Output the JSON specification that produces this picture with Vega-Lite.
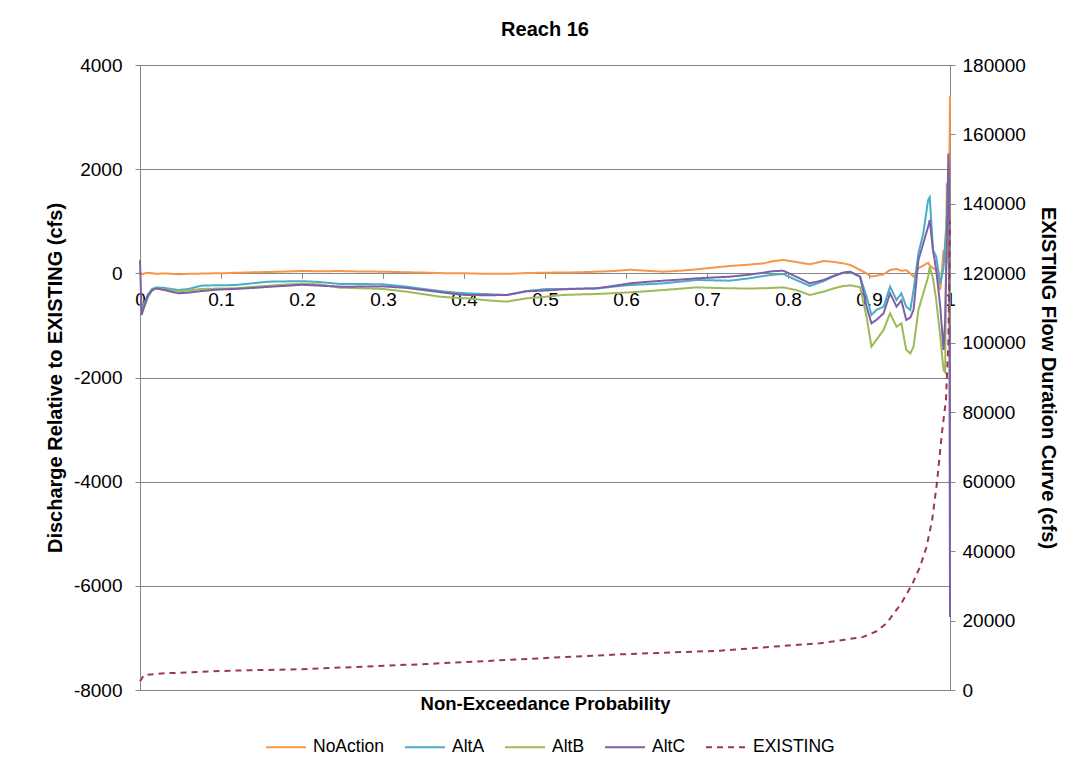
{
  "$schema": "https://vega.github.io/schema/vega-lite/v6.json",
  "width": 810,
  "height": 625,
  "autosize": {"type": "none"},
  "padding": {"left": 140, "top": 65, "right": 141, "bottom": 87},
  "background": "white",
  "title": {"text": "Reach 16", "fontSize": 20, "fontWeight": "bold", "font": "Liberation Sans", "color": "black", "offset": -4, "baseline": "bottom"},
  "config": {
    "font": "Liberation Sans",
    "view": {"stroke": "#868686", "strokeWidth": 1},
    "axis": {"labelFont": "Liberation Sans", "titleFont": "Liberation Sans", "labelColor": "black", "titleColor": "black", "labelFontSize": 19, "titleFontSize": 20, "titleFontWeight": "bold", "gridColor": "#868686", "domainColor": "#868686", "tickColor": "#868686", "tickSize": 5}
  },
  "datasets": {
    "deltas": [
      {"p": 0, "NoAction": 30, "AltA": -600, "AltB": -700, "AltC": 250},
      {"p": 0.002, "NoAction": -20, "AltA": -650, "AltB": -720, "AltC": -800},
      {"p": 0.006, "NoAction": 0, "AltA": -550, "AltB": -620, "AltC": -600},
      {"p": 0.01, "NoAction": 10, "AltA": -400, "AltB": -450, "AltC": -420},
      {"p": 0.015, "NoAction": 0, "AltA": -300, "AltB": -330, "AltC": -320},
      {"p": 0.02, "NoAction": -10, "AltA": -270, "AltB": -290, "AltC": -290},
      {"p": 0.03, "NoAction": 0, "AltA": -280, "AltB": -310, "AltC": -320},
      {"p": 0.047, "NoAction": -19, "AltA": -320, "AltB": -345, "AltC": -384},
      {"p": 0.06, "NoAction": -10, "AltA": -300, "AltB": -330, "AltC": -370},
      {"p": 0.076, "NoAction": -5, "AltA": -237, "AltB": -300, "AltC": -340},
      {"p": 0.09, "NoAction": 0, "AltA": -230, "AltB": -295, "AltC": -320},
      {"p": 0.1, "NoAction": 0, "AltA": -230, "AltB": -290, "AltC": -310},
      {"p": 0.117, "NoAction": 10, "AltA": -225, "AltB": -288, "AltC": -300},
      {"p": 0.14, "NoAction": 20, "AltA": -190, "AltB": -260, "AltC": -280},
      {"p": 0.158, "NoAction": 25, "AltA": -160, "AltB": -240, "AltC": -260},
      {"p": 0.18, "NoAction": 35, "AltA": -155, "AltB": -215, "AltC": -240},
      {"p": 0.2, "NoAction": 45, "AltA": -150, "AltB": -200, "AltC": -220},
      {"p": 0.22, "NoAction": 40, "AltA": -165, "AltB": -210, "AltC": -235},
      {"p": 0.247, "NoAction": 44, "AltA": -205, "AltB": -275, "AltC": -256},
      {"p": 0.27, "NoAction": 35, "AltA": -205, "AltB": -285, "AltC": -255},
      {"p": 0.3, "NoAction": 32, "AltA": -210, "AltB": -300, "AltC": -250},
      {"p": 0.329, "NoAction": 20, "AltA": -256, "AltB": -352, "AltC": -280},
      {"p": 0.35, "NoAction": 15, "AltA": -300, "AltB": -400, "AltC": -320},
      {"p": 0.37, "NoAction": 5, "AltA": -340, "AltB": -448, "AltC": -360},
      {"p": 0.39, "NoAction": 0, "AltA": -370, "AltB": -470, "AltC": -400},
      {"p": 0.403, "NoAction": 0, "AltA": -384, "AltB": -480, "AltC": -416},
      {"p": 0.43, "NoAction": -10, "AltA": -400, "AltB": -520, "AltC": -420},
      {"p": 0.453, "NoAction": -10, "AltA": -416, "AltB": -544, "AltC": -416},
      {"p": 0.477, "NoAction": 5, "AltA": -340, "AltB": -480, "AltC": -345},
      {"p": 0.502, "NoAction": 13, "AltA": -300, "AltB": -448, "AltC": -330},
      {"p": 0.522, "NoAction": 15, "AltA": -300, "AltB": -416, "AltC": -307},
      {"p": 0.543, "NoAction": 20, "AltA": -295, "AltB": -405, "AltC": -295},
      {"p": 0.564, "NoAction": 32, "AltA": -290, "AltB": -397, "AltC": -288},
      {"p": 0.585, "NoAction": 45, "AltA": -255, "AltB": -380, "AltC": -240},
      {"p": 0.605, "NoAction": 70, "AltA": -224, "AltB": -365, "AltC": -192},
      {"p": 0.625, "NoAction": 50, "AltA": -210, "AltB": -345, "AltC": -165},
      {"p": 0.646, "NoAction": 32, "AltA": -192, "AltB": -320, "AltC": -141},
      {"p": 0.667, "NoAction": 50, "AltA": -160, "AltB": -295, "AltC": -120},
      {"p": 0.687, "NoAction": 77, "AltA": -128, "AltB": -269, "AltC": -96},
      {"p": 0.708, "NoAction": 110, "AltA": -135, "AltB": -280, "AltC": -80},
      {"p": 0.728, "NoAction": 141, "AltA": -141, "AltB": -288, "AltC": -64},
      {"p": 0.75, "NoAction": 165, "AltA": -100, "AltB": -290, "AltC": -30},
      {"p": 0.77, "NoAction": 192, "AltA": -51, "AltB": -288, "AltC": 13},
      {"p": 0.78, "NoAction": 230, "AltA": -30, "AltB": -280, "AltC": 40},
      {"p": 0.794, "NoAction": 256, "AltA": -13, "AltB": -269, "AltC": 51},
      {"p": 0.81, "NoAction": 218, "AltA": -128, "AltB": -320, "AltC": -64},
      {"p": 0.827, "NoAction": 173, "AltA": -243, "AltB": -416, "AltC": -192},
      {"p": 0.844, "NoAction": 237, "AltA": -150, "AltB": -352, "AltC": -128},
      {"p": 0.856, "NoAction": 220, "AltA": -60, "AltB": -290, "AltC": -50},
      {"p": 0.868, "NoAction": 192, "AltA": 13, "AltB": -245, "AltC": 13},
      {"p": 0.877, "NoAction": 160, "AltA": 20, "AltB": -230, "AltC": 32},
      {"p": 0.889, "NoAction": 64, "AltA": -64, "AltB": -266, "AltC": -64},
      {"p": 0.897, "NoAction": 0, "AltA": -448, "AltB": -833, "AltC": -640},
      {"p": 0.903, "NoAction": -64, "AltA": -800, "AltB": -1408, "AltC": -960},
      {"p": 0.909, "NoAction": -45, "AltA": -704, "AltB": -1280, "AltC": -896},
      {"p": 0.918, "NoAction": -20, "AltA": -640, "AltB": -1088, "AltC": -768},
      {"p": 0.926, "NoAction": 64, "AltA": -256, "AltB": -768, "AltC": -384},
      {"p": 0.934, "NoAction": 84, "AltA": -512, "AltB": -1024, "AltC": -640},
      {"p": 0.94, "NoAction": 50, "AltA": -384, "AltB": -960, "AltC": -520},
      {"p": 0.946, "NoAction": 60, "AltA": -640, "AltB": -1472, "AltC": -896},
      {"p": 0.951, "NoAction": 0, "AltA": -704, "AltB": -1536, "AltC": -850},
      {"p": 0.955, "NoAction": -64, "AltA": -320, "AltB": -1408, "AltC": -700},
      {"p": 0.961, "NoAction": 100, "AltA": 384, "AltB": -704, "AltC": 256},
      {"p": 0.967, "NoAction": 150, "AltA": 768, "AltB": -384, "AltC": 576},
      {"p": 0.973, "NoAction": 200, "AltA": 1408, "AltB": -64, "AltC": 896},
      {"p": 0.975, "NoAction": 150, "AltA": 1460, "AltB": 128, "AltC": 1024},
      {"p": 0.979, "NoAction": 100, "AltA": 448, "AltB": -100, "AltC": 448},
      {"p": 0.983, "NoAction": 64, "AltA": 320, "AltB": -512, "AltC": 64},
      {"p": 0.988, "NoAction": -320, "AltA": -200, "AltB": -1216, "AltC": -640},
      {"p": 0.992, "NoAction": 448, "AltA": 100, "AltB": -1856, "AltC": -1472},
      {"p": 0.994, "NoAction": 200, "AltA": 600, "AltB": -1900, "AltC": -900},
      {"p": 0.996, "NoAction": 300, "AltA": 1088, "AltB": 1728, "AltC": 600},
      {"p": 0.998, "NoAction": 1000, "AltA": 800, "AltB": 200, "AltC": 2300},
      {"p": 0.999, "NoAction": 1800, "AltA": -300, "AltB": 1800, "AltC": 1500},
      {"p": 1.0, "NoAction": 3400, "AltA": 900, "AltB": -1000, "AltC": -6600}
    ],
    "existing": [
      {"p": 0, "series": "EXISTING", "flow": 2500},
      {"p": 0.005, "series": "EXISTING", "flow": 4300},
      {"p": 0.03, "series": "EXISTING", "flow": 4800},
      {"p": 0.111, "series": "EXISTING", "flow": 5570},
      {"p": 0.194, "series": "EXISTING", "flow": 5960},
      {"p": 0.276, "series": "EXISTING", "flow": 6720},
      {"p": 0.354, "series": "EXISTING", "flow": 7490},
      {"p": 0.469, "series": "EXISTING", "flow": 8840},
      {"p": 0.593, "series": "EXISTING", "flow": 10270},
      {"p": 0.716, "series": "EXISTING", "flow": 11320},
      {"p": 0.8, "series": "EXISTING", "flow": 12800},
      {"p": 0.84, "series": "EXISTING", "flow": 13440},
      {"p": 0.87, "series": "EXISTING", "flow": 14500},
      {"p": 0.893, "series": "EXISTING", "flow": 15300},
      {"p": 0.91, "series": "EXISTING", "flow": 17000},
      {"p": 0.922, "series": "EXISTING", "flow": 19300},
      {"p": 0.94, "series": "EXISTING", "flow": 25000},
      {"p": 0.954, "series": "EXISTING", "flow": 30800},
      {"p": 0.963, "series": "EXISTING", "flow": 35500},
      {"p": 0.971, "series": "EXISTING", "flow": 41200},
      {"p": 0.978, "series": "EXISTING", "flow": 49000},
      {"p": 0.984, "series": "EXISTING", "flow": 59900},
      {"p": 0.99, "series": "EXISTING", "flow": 74000},
      {"p": 0.995, "series": "EXISTING", "flow": 83500},
      {"p": 0.998, "series": "EXISTING", "flow": 100000},
      {"p": 1.0, "series": "EXISTING", "flow": 135000}
    ]
  },
  "layer": [
    {
      "data": {"name": "deltas"},
      "transform": [{"fold": ["NoAction", "AltA", "AltB", "AltC"], "as": ["series", "v"]}],
      "mark": {"type": "line", "strokeWidth": 2, "interpolate": "linear"},
      "encoding": {
        "x": {"field": "p", "type": "quantitative", "scale": {"domain": [0, 1], "nice": false},
          "axis": {"title": "Non-Exceedance Probability", "values": [0, 0.1, 0.2, 0.3, 0.4, 0.5, 0.6, 0.7, 0.8, 0.9, 1], "format": "~g", "grid": false, "offset": -416.67, "labelPadding": 12, "titleY": 430, "titleBaseline": "middle", "titleFontSize": 18.5, "labelFlush": false, "domain": false}},
        "y": {"field": "v", "type": "quantitative", "scale": {"domain": [-8000, 4000], "nice": false},
          "axis": {"title": "Discharge Relative to EXISTING (cfs)", "values": [-8000, -6000, -4000, -2000, 0, 2000, 4000], "labelExpr": "'' + datum.value", "grid": true, "domain": false, "labelPadding": 13, "titlePadding": 8}},
        "color": {"field": "series", "type": "nominal",
          "scale": {"domain": ["NoAction", "AltA", "AltB", "AltC", "EXISTING"], "range": ["#F79646", "#4BACC6", "#9BBB59", "#7F5FA8", "#9A3A48"]},
          "legend": {"title": null, "orient": "none", "legendX": 125, "legendY": 661, "direction": "horizontal", "columns": 5, "symbolType": "stroke", "symbolSize": 1600, "symbolStrokeWidth": 2, "labelFontSize": 17.5, "labelFont": "Liberation Sans", "labelColor": "black", "columnPadding": 16, "labelOffset": 6}},
        "strokeDash": {"field": "series", "type": "nominal",
          "scale": {"domain": ["NoAction", "AltA", "AltB", "AltC", "EXISTING"], "range": [[1, 0], [1, 0], [1, 0], [1, 0], [6, 5]]},
          "legend": {"title": null, "orient": "none", "legendX": 125, "legendY": 661, "direction": "horizontal", "columns": 5, "symbolType": "stroke", "symbolSize": 1600, "symbolStrokeWidth": 2, "labelFontSize": 17.5, "labelFont": "Liberation Sans", "labelColor": "black", "columnPadding": 16, "labelOffset": 6}},
        "order": {"field": "p", "type": "quantitative"}
      }
    },
    {
      "data": {"name": "existing"},
      "mark": {"type": "line", "strokeWidth": 2},
      "encoding": {
        "x": {"field": "p", "type": "quantitative"},
        "y": {"field": "flow", "type": "quantitative", "scale": {"domain": [0, 180000], "nice": false},
          "axis": {"orient": "right", "title": "EXISTING Flow Duration Curve (cfs)", "values": [0, 20000, 40000, 60000, 80000, 100000, 120000, 140000, 160000, 180000], "labelExpr": "'' + datum.value", "grid": false, "domain": false, "labelPadding": 7, "titlePadding": 12}},
        "color": {"field": "series", "type": "nominal"},
        "strokeDash": {"field": "series", "type": "nominal"},
        "order": {"field": "p", "type": "quantitative"}
      }
    }
  ],
  "resolve": {"scale": {"y": "independent"}}
}
